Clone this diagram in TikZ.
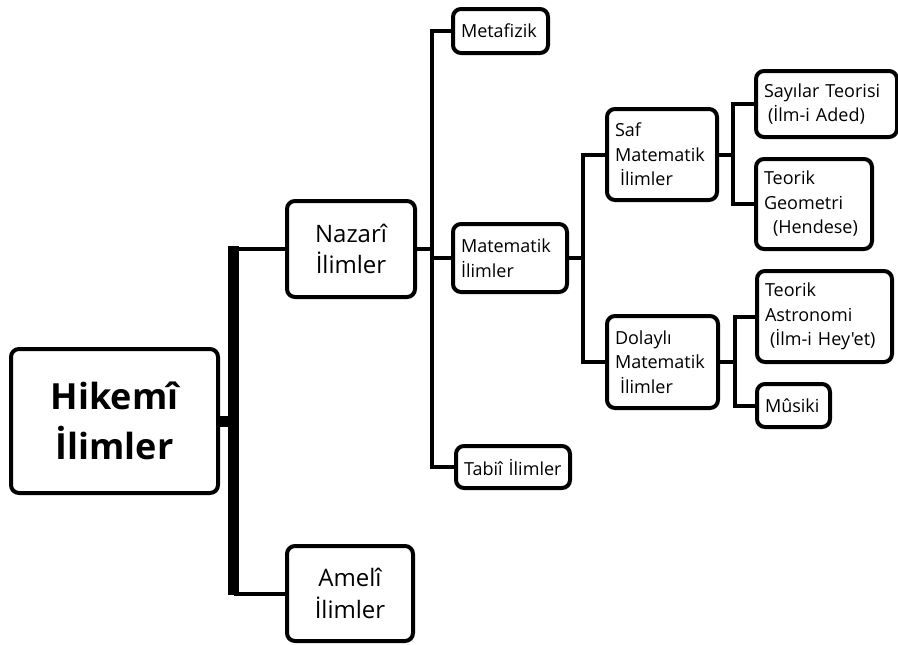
\documentclass[tikz,border=0pt]{standalone}
\usepackage{fontspec}
\setmainfont{Open Sans}[Ligatures=TeXOff]
\begin{document}
\begin{tikzpicture}[x=1pt,y=-1pt,
  box/.style={draw, line width=4pt, rounded corners=8pt, anchor=north west, inner xsep=8pt, inner ysep=0pt, align=left},
  small/.style={font=\fontsize{18}{24.5}\selectfont},
  mid/.style={font=\fontsize{24}{31.5}\selectfont, align=center},
  big/.style={font=\bfseries\fontsize{36}{50}\selectfont, align=center},
  conn/.style={line width=4pt, line join=miter},
  thickbar/.style={line width=11pt, shorten <=-3pt, shorten >=-1pt}]
\useasboundingbox (0,0) rectangle (898,645);
% boxes
\node[box, big, minimum width=207pt, minimum height=144pt] (hik) at (9,347) {Hikemî\\İlimler};
\node[box, mid, minimum width=128pt, minimum height=96pt] (naz) at (285,199) {Nazarî\\İlimler};
\node[box, mid, minimum width=126pt, minimum height=95pt] (ame) at (285,544) {Amelî\\İlimler};
\node[box, small, minimum width=95pt, minimum height=44pt, text width=79pt] (meta) at (451,7) {\mbox{Metafizik}};
\node[box, small, minimum width=114pt, minimum height=68pt, text width=98pt] (mat) at (451,222) {\mbox{Matematik}\\\mbox{İlimler}};
\node[box, small, minimum width=114pt, minimum height=42pt, text width=98pt] (tab) at (454,444) {\mbox{Tabiî İlimler}};
\node[box, small, minimum width=110pt, minimum height=91pt, text width=94pt] (saf) at (605,107) {\mbox{Saf}\\\mbox{Matematik}\\\mbox{\hspace*{5pt}İlimler}};
\node[box, small, minimum width=111pt, minimum height=92pt, text width=95pt] (dol) at (605,314) {\mbox{Dolaylı}\\\mbox{Matematik}\\\mbox{\hspace*{5pt}İlimler}};
\node[box, small, minimum width=141pt, minimum height=66pt, text width=125pt] (say) at (754,69) {\mbox{Sayılar Teorisi}\\\mbox{\hspace*{4pt}(İlm-i Aded)}};
\node[box, small, minimum width=116pt, minimum height=90pt, text width=100pt] (geo) at (754,157) {\mbox{Teorik}\\\mbox{Geometri}\\\mbox{\hspace*{9pt}(Hendese)}};
\node[box, small, minimum width=135pt, minimum height=91pt, text width=119pt] (ast) at (755,269) {\mbox{Teorik}\\\mbox{Astronomi}\\\mbox{\hspace*{5pt}(İlm-i Hey'et)}};
\node[box, small, minimum width=73pt, minimum height=43pt, text width=57pt] (mus) at (755,382) {\mbox{Mûsiki}};
% trunk coordinates
\coordinate (hx) at (233.5,0);
\coordinate (nx) at (432,0);
\coordinate (mx) at (583,0);
\coordinate (sx) at (733,0);
\coordinate (dx) at (735,0);
% Hikemi
\draw[thickbar] (hx |- naz.west) -- (hx |- ame.west);
\draw[line width=11pt] (hik.east) -- (hx |- hik.east);
\draw[conn] (hx |- naz.west) -- (naz.west);
\draw[conn] (hx |- ame.west) -- (ame.west);
% Nazari
\draw[conn] (naz.east) -- (nx |- naz.east);
\draw[conn] (meta.west) -- (nx |- meta.west) -- (nx |- tab.west) -- (tab.west);
\draw[conn] (nx |- mat.west) -- (mat.west);
% Matematik
\draw[conn] (mat.east) -- (mx |- mat.east);
\draw[conn] (saf.west) -- (mx |- saf.west) -- (mx |- dol.west) -- (dol.west);
% Saf
\draw[conn] (saf.east) -- (sx |- saf.east);
\draw[conn] (say.west) -- (sx |- say.west) -- (sx |- geo.west) -- (geo.west);
% Dolayli
\draw[conn] (dol.east) -- (dx |- dol.east);
\draw[conn] (ast.west) -- (dx |- ast.west) -- (dx |- mus.west) -- (mus.west);
\end{tikzpicture}
\end{document}
